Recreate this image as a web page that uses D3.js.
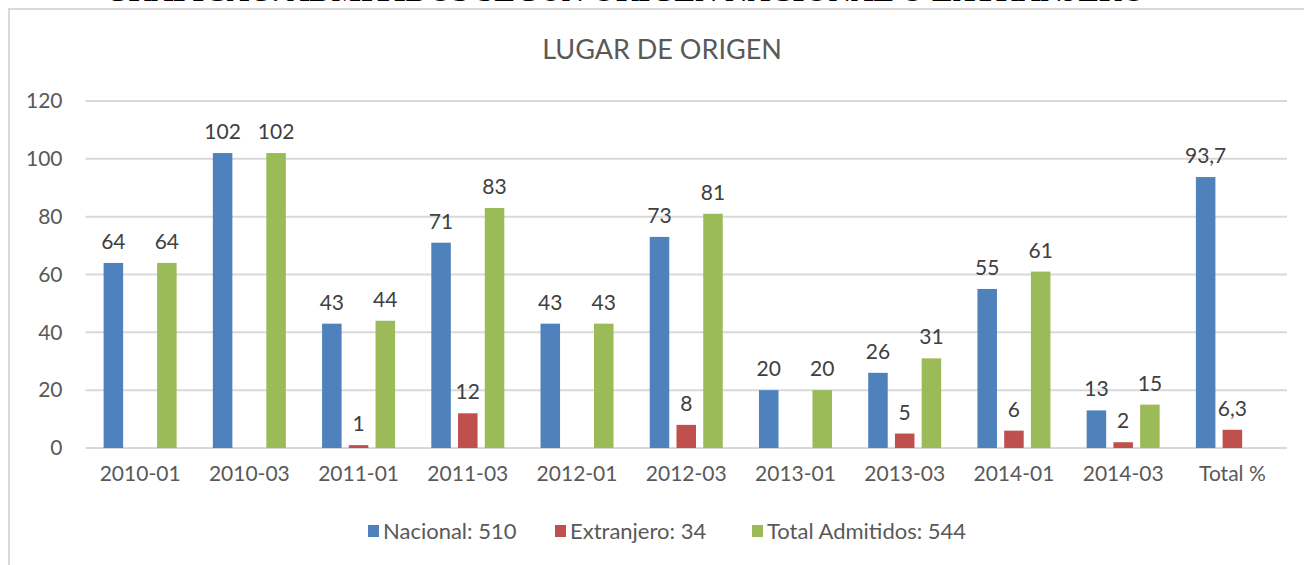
<!DOCTYPE html>
<html lang="es">
<head>
<meta charset="utf-8">
<style>
  body { margin: 0; background: #fff; }
  text { font-family: Lato, "Open Sans", sans-serif; }
</style>
</head>
<body>
<svg width="1304" height="565"></svg>
<script src="https://cdn.jsdelivr.net/npm/d3@7"></script>
<script>
var categories = ["2010-01", "2010-03", "2011-01", "2011-03", "2012-01", "2012-03",
                  "2013-01", "2013-03", "2014-01", "2014-03", "Total %"];
var nacional    = [64, 102, 43, 71, 43, 73, 20, 26, 55, 13, 93.7];
var extranjero  = [0, 0, 1, 12, 0, 8, 0, 5, 6, 2, 6.3];
var totalAdm    = [64, 102, 44, 83, 43, 81, 20, 31, 61, 15, null];
var seriesNames = ["Nacional: 510", "Extranjero: 34", "Total Admitidos: 544"];
var seriesColors = ["#4F81BD", "#C0504D", "#9BBB59"];
var yTicks = [0, 20, 40, 60, 80, 100, 120];

var svg = d3.select("svg");

// heading of the page, cut off at the top
svg.append("text")
    .attr("x", 625).attr("y", 1)
    .attr("text-anchor", "middle")
    .style("font-family", "'Liberation Serif', serif")
    .style("font-weight", "bold")
    .style("font-size", "31px")
    .attr("fill", "#000")
    .text("GRÁFICA 5: ADMITIDOS SEGÚN ORIGEN NACIONAL O EXTRANJERO");

// chart frame
svg.append("rect")
    .attr("x", 9).attr("y", 9)
    .attr("width", 1310).attr("height", 570)
    .attr("fill", "#fff")
    .attr("stroke", "#d9d9d9").attr("stroke-width", 2);

var plotLeft = 85.5, plotRight = 1287, plotTop = 101, plotBottom = 448;

var x = d3.scaleBand().domain(categories).range([plotLeft, plotRight]);
var y = d3.scaleLinear().domain([0, 120]).range([plotBottom, plotTop]);

// gridlines
svg.append("g").selectAll("line")
    .data(yTicks)
    .enter().append("line")
    .attr("x1", plotLeft).attr("x2", plotRight)
    .attr("y1", function (d) { return y(d); })
    .attr("y2", function (d) { return y(d); })
    .attr("stroke", "#d9d9d9").attr("stroke-width", 2);

// y axis labels
var yAxis = svg.append("g")
    .attr("transform", "translate(" + (plotLeft - 23) + ",0)")
    .call(d3.axisLeft(y).tickValues(yTicks).tickSize(0).tickPadding(0));
yAxis.select(".domain").remove();
yAxis.selectAll("text")
    .style("font-size", "21px")
    .style("font-family", "Lato, 'Open Sans', sans-serif")
    .attr("fill", "#595959");

// x axis labels
var xAxis = svg.append("g")
    .attr("transform", "translate(0," + (plotBottom + 18) + ")")
    .call(d3.axisBottom(x).tickSize(0).tickPadding(0));
xAxis.select(".domain").remove();
xAxis.selectAll("text")
    .attr("dy", "0.71em")
    .style("font-size", "21px")
    .style("font-family", "Lato, 'Open Sans', sans-serif")
    .attr("fill", "#595959");

// title
svg.append("text")
    .attr("x", 662).attr("y", 59)
    .attr("text-anchor", "middle")
    .style("font-size", "27px")
    .attr("fill", "#595959")
    .text("LUGAR DE ORIGEN");

var series = [nacional, extranjero, totalAdm];
var inner = d3.scaleBand().domain([0, 1, 2]).range([-36.5, 36.5]).paddingInner(0.27);

function fmt(v) { return String(v).replace(".", ","); }

series.forEach(function (vals, s) {
    var pts = categories.map(function (c, i) { return { c: c, v: vals[i] }; })
        .filter(function (d) { return d.v !== null && d.v > 0; });
    var g = svg.append("g");
    g.selectAll("rect")
        .data(pts)
        .enter().append("rect")
        .attr("x", function (d) { return x(d.c) + x.bandwidth() / 2 + inner(s); })
        .attr("width", inner.bandwidth())
        .attr("y", function (d) { return y(d.v); })
        .attr("height", function (d) { return plotBottom - y(d.v); })
        .attr("fill", seriesColors[s]);
    g.selectAll("text")
        .data(pts)
        .enter().append("text")
        .attr("x", function (d) { return x(d.c) + x.bandwidth() / 2 + inner(s) + inner.bandwidth() / 2; })
        .attr("y", function (d) { return y(d.v) - 14; })
        .attr("text-anchor", "middle")
        .style("font-size", "21px")
        .attr("fill", "#404040")
        .text(function (d) { return fmt(d.v); });
});

// legend
var legendX = [368, 555, 752];
var legend = svg.append("g").selectAll("g")
    .data(seriesNames)
    .enter().append("g")
    .attr("transform", function (d, i) { return "translate(" + legendX[i] + ",525)"; });
legend.append("rect")
    .attr("width", 11).attr("height", 12)
    .attr("fill", function (d, i) { return seriesColors[i]; });
legend.append("text")
    .attr("x", 15).attr("y", 14)
    .style("font-size", "22px")
    .attr("fill", "#595959")
    .text(function (d) { return d; });
</script>
</body>
</html>
